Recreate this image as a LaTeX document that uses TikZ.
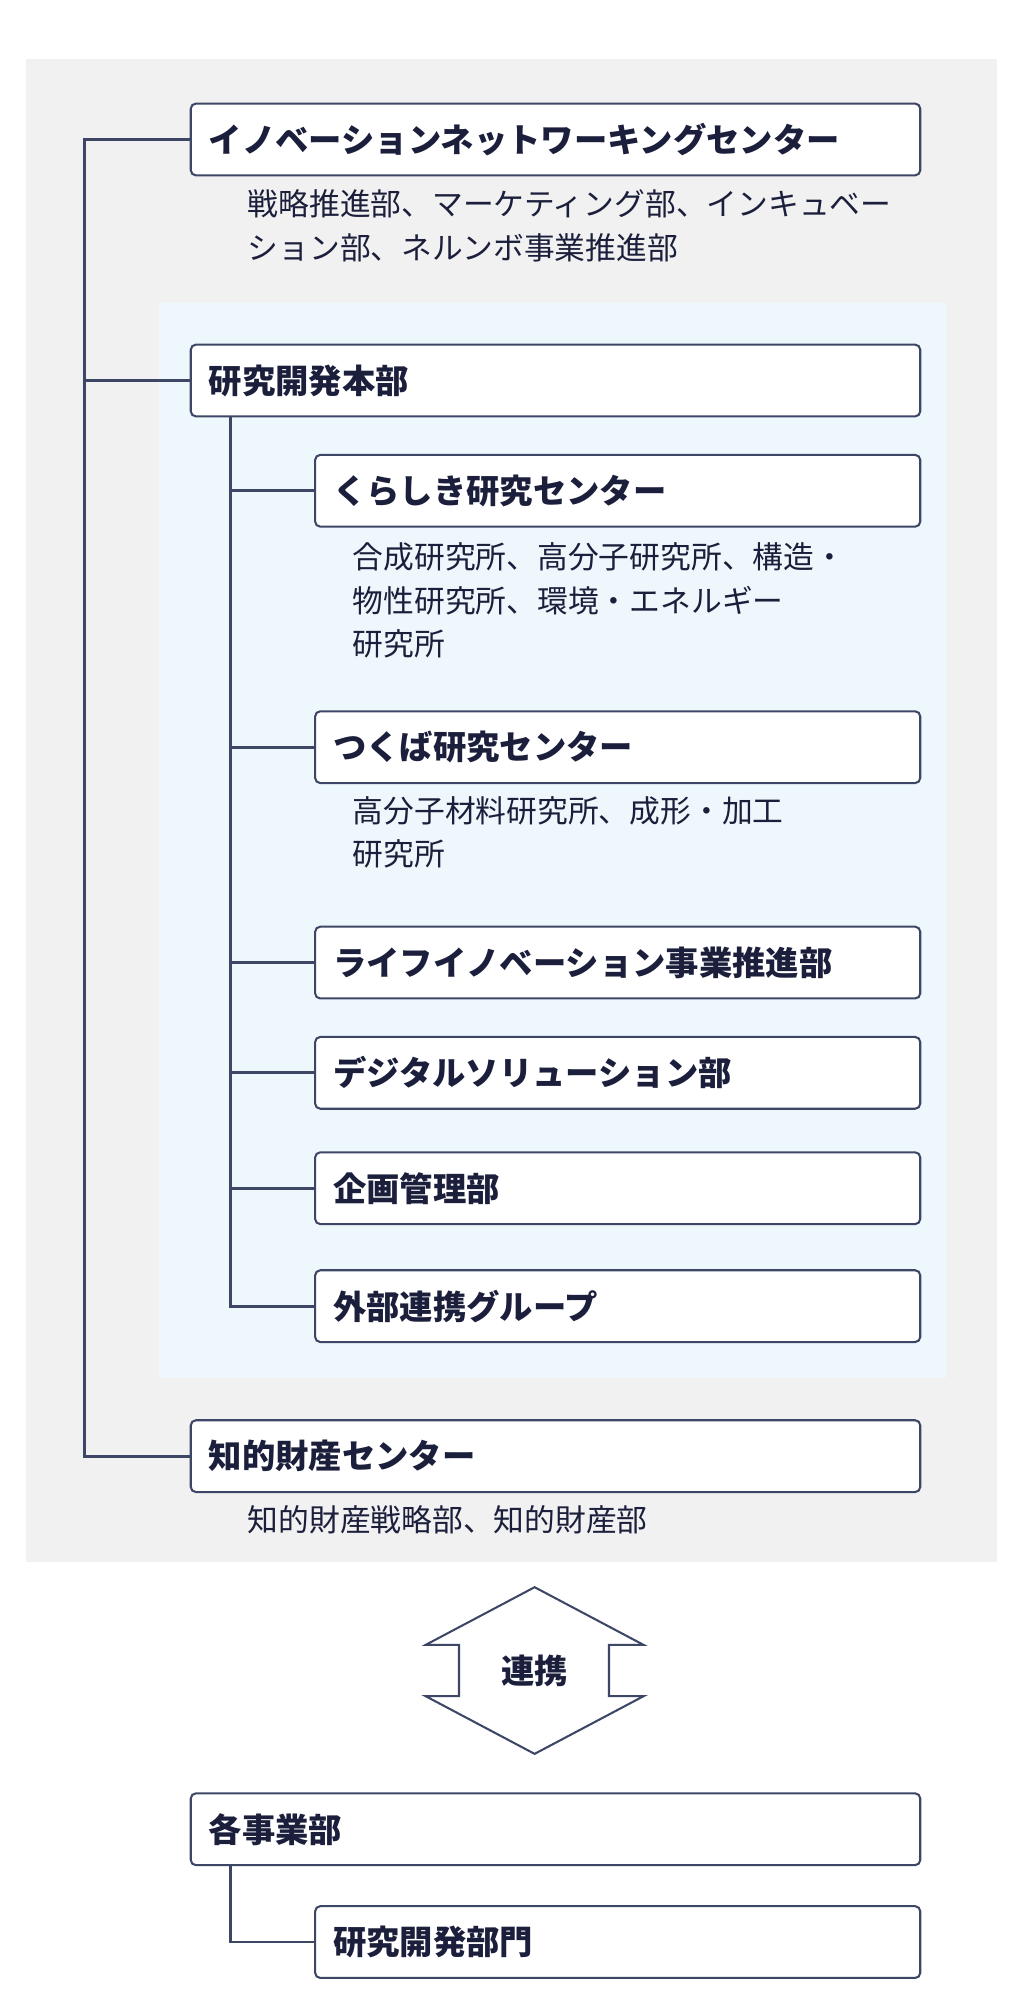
\documentclass[tikz,border=0pt]{standalone}
\usepackage{fontspec}
\setmainfont{Noto Sans CJK JP}
\usetikzlibrary{positioning}
\definecolor{navy}{HTML}{3E4666}
\definecolor{ink}{HTML}{1B1F3B}
\definecolor{bggray}{HTML}{F1F1F1}
\definecolor{bgblue}{HTML}{EEF8FC}
\tikzstyle{unit} = [draw=navy, line width=1.6pt, rounded corners=4pt, fill=white, anchor=north west, minimum height=56pt, inner xsep=14pt, align=left, text=ink, font=\fontsize{26}{30}\selectfont\bfseries]
\tikzstyle{note} = [anchor=north west, align=left, text=ink, inner sep=0pt, font=\fontsize{24}{34}\selectfont]
\tikzstyle{wire} = [draw=navy, line width=2.2pt]

\begin{document}
\begin{tikzpicture}[x=1pt, y=-1pt]
	\useasboundingbox (0,0) rectangle (790,1560);
	\fill[bggray](20,46) rectangle (778,1218);
	\fill[bgblue](124,236) rectangle (738,1075);

	\node[unit, text width=541pt](inc) at (148,80){イノベーションネットワーキングセンター};
	\node[note](incsub) at (193,148){戦略推進部、マーケティング部、インキュベー\\ション部、ネルンボ事業推進部};
	\node[unit, text width=541pt](rd) at (148,268){研究開発本部};
	\node[unit, text width=444pt](kura) at (245,354){くらしき研究センター};
	\node[note](kurasub) at (275,423){合成研究所、高分子研究所、構造・\\物性研究所、環境・エネルギー\\研究所};
	\node[unit, text width=444pt](tsuku) at (245,554){つくば研究センター};
	\node[note](tsukusub) at (275,621){高分子材料研究所、成形・加工\\研究所};
	\node[unit, text width=444pt](life) at (245,722){ライフイノベーション事業推進部};
	\node[unit, text width=444pt](digi) at (245,808){デジタルソリューション部};
	\node[unit, text width=444pt](plan) at (245,898){企画管理部};
	\node[unit, text width=444pt](ext) at (245,990){外部連携グループ};
	\node[unit, text width=541pt](ip) at (148,1107){知的財産センター};
	\node[note](ipsub) at (193,1174){知的財産戦略部、知的財産部};
	\node[unit, text width=541pt](biz) at (148,1398){各事業部};
	\node[unit, text width=444pt](bizrd) at (245,1486){研究開発部門};

	\draw[wire](inc.west) -- ++(-82,0) |- (ip.west);
	\draw[wire](rd.west) -- ++(-82,0);
	\draw[wire](rd.south west) ++(32,0) |- (ext.west);
	\draw[wire](kura.west) -- ++(-65,0);
	\draw[wire](tsuku.west) -- ++(-65,0);
	\draw[wire](life.west) -- ++(-65,0);
	\draw[wire](digi.west) -- ++(-65,0);
	\draw[wire](plan.west) -- ++(-65,0);
	\draw[wire](biz.south west) ++(32,0) |- (bizrd.west);

	\draw[navy, line width=1.6pt, fill=white, line join=miter] (417,1238) -- (502,1283) -- (475,1283) -- (475,1323) -- (502,1323) -- (417,1368) -- (332,1323) -- (358,1323) -- (358,1283) -- (332,1283) -- cycle;
	\node[text=ink, font=\fontsize{26}{30}\selectfont\bfseries](link) at (417,1303){連携};
\end{tikzpicture}
\end{document}
